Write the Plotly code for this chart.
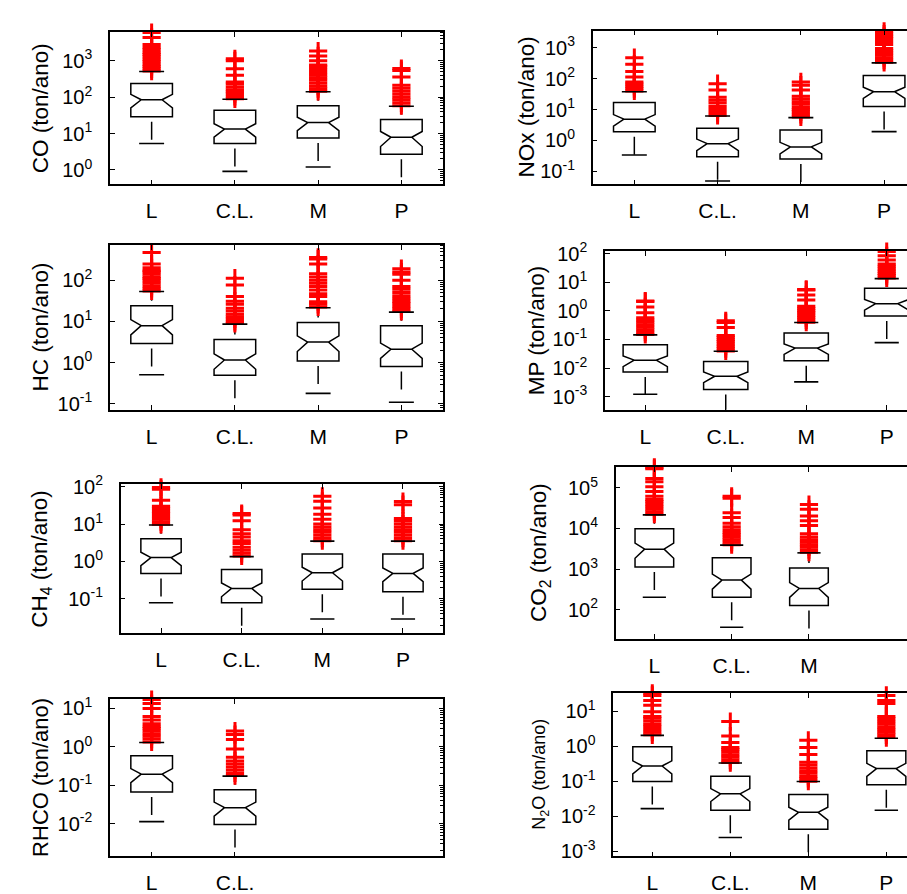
import plotly.graph_objects as go

# ---------------- data (ton/ano) ----------------
categories = ["L", "C.L.", "M", "P"]

# CO
co_groups = ["L", "C.L.", "M", "P"]
co_q1 = [29, 5.3, 7.5, 2.7]
co_median = [85, 13.3, 20, 7.9]
co_q3 = [237, 43.7, 58.5, 24.5]
co_lower = [5.3, 0.91, 1.2, 0.3]
co_upper = [507, 88, 141, 56]
co_notch = [34, 5.3, 8, 3.5]
co_out_L = [520, 600, 700, 800, 950, 1100, 1300, 1500, 1700, 2000, 2300, 2800, 4400, 6000]
co_out_CL = [90, 105, 125, 141, 160, 190, 230, 263, 400, 600, 1000, 1130]
co_out_M = [145, 170, 200, 240, 290, 340, 400, 480, 580, 680, 760, 1000, 1360, 1850]
co_out_P = [58, 70, 85, 100, 120, 145, 175, 214, 357, 540, 610]
co_exponents = [0, 1, 2, 3]

# NOx
nox_groups = ["L", "C.L.", "M", "P"]
nox_q1 = [1.93, 0.30, 0.25, 12.7]
nox_median = [4.9, 0.79, 0.62, 38]
nox_q3 = [17, 2.5, 2.2, 128]
nox_lower = [0.34, 0.049, 0.02, 1.93]
nox_upper = [38, 6.2, 5.5, 325]
nox_notch = [2.0, 0.32, 0.25, 15]
nox_out_L = [40, 48, 57, 68, 79, 113, 170, 295, 480]
nox_out_CL = [6.5, 8, 10, 12.5, 16.3, 20, 25, 43, 69]
nox_out_M = [5.8, 7, 8.5, 10, 12, 15, 18, 22, 27, 43, 62, 79]
nox_out_P = [340, 400, 480, 570, 680, 800, 950, 1270, 1600, 2000, 2350, 2800, 3400]
nox_exponents = [-1, 0, 1, 2, 3]

# HC
hc_groups = ["L", "C.L.", "M", "P"]
hc_q1 = [2.9, 0.495, 1.1, 0.81]
hc_median = [7.9, 1.16, 3.16, 2.12]
hc_q3 = [24, 3.66, 9.4, 7.9]
hc_lower = [0.51, 0.05, 0.18, 0.11]
hc_upper = [53, 8.6, 21.5, 16.8]
hc_notch = [3.2, 0.47, 1.3, 0.85]
hc_out_L = [55, 63, 72, 84, 97, 110, 120, 140, 160, 172, 200, 245, 470, 740]
hc_out_CL = [9, 10, 11.5, 13, 15, 18, 21, 26, 31, 40, 76, 112]
hc_out_M = [22.5, 26, 30, 40, 47, 58, 70, 84, 100, 120, 144, 245, 325, 357]
hc_out_P = [17.5, 20, 23, 27, 31, 36, 42, 50, 60, 70, 100, 140, 158, 190]
hc_exponents = [-1, 0, 1, 2]

# MP
mp_groups = ["L", "C.L.", "M", "P"]
mp_q1 = [0.0073, 0.0018, 0.018, 0.66]
mp_median = [0.019, 0.0052, 0.05, 1.78]
mp_q3 = [0.066, 0.017, 0.169, 6.1]
mp_lower = [0.00123, 0.0002, 0.0033, 0.078]
mp_upper = [0.145, 0.039, 0.39, 13.3]
mp_notch = [0.0078, 0.0021, 0.02, 0.72]
mp_out_L = [0.15, 0.18, 0.22, 0.27, 0.33, 0.4, 0.48, 0.575, 0.85, 1.37, 2.1, 2.2]
mp_out_CL = [0.04, 0.048, 0.058, 0.07, 0.085, 0.1, 0.12, 0.137, 0.26, 0.39, 0.45]
mp_out_M = [0.4, 0.48, 0.58, 0.7, 0.85, 1.0, 1.2, 1.44, 2.4, 3.6, 5.3, 5.6]
mp_out_P = [14, 17, 20, 24, 29, 35, 43, 60, 83, 117, 129]
mp_exponents = [-3, -2, -1, 0, 1, 2]

# CH4
ch4_groups = ["L", "C.L.", "M", "P"]
ch4_q1 = [0.48, 0.079, 0.18, 0.155]
ch4_median = [1.27, 0.19, 0.50, 0.48]
ch4_q3 = [4.06, 0.61, 1.58, 1.58]
ch4_lower = [0.079, 0.008, 0.029, 0.029]
ch4_upper = [9.4, 1.35, 3.5, 3.5]
ch4_notch = [0.5, 0.076, 0.2, 0.19]
ch4_out_L = [9.8, 11.5, 13.5, 16, 19, 22, 26, 30, 43, 85, 95]
ch4_out_CL = [1.4, 1.65, 2.0, 2.4, 3.0, 3.6, 4.5, 5.5, 7, 12.2, 17.5, 19]
ch4_out_M = [3.6, 4.2, 5, 6, 7, 8.3, 10, 13.5, 18.3, 27, 40.5, 55]
ch4_out_P = [3.6, 4.2, 5, 6, 7, 8.3, 10, 12, 14, 33, 40]
ch4_exponents = [-1, 0, 1, 2]

# CO2
co2_groups = ["L", "C.L.", "M"]
co2_q1 = [1120, 202, 127]
co2_median = [3100, 535, 333]
co2_q3 = [9800, 1900, 1070]
co2_lower = [202, 37, 15]
co2_upper = [21700, 3900, 2510]
co2_notch = [1250, 215, 133]
co2_out_L = [22500, 26000, 30000, 35000, 40000, 46000, 51800, 62000, 81500,
             107000, 142000, 170000, 295000, 320000]
co2_out_CL = [4000, 4600, 5300, 6100, 7000, 8000, 9300, 11000, 13400, 18600, 24500, 56000, 62000]
co2_out_M = [2600, 3000, 3500, 4000, 4600, 5300, 6200, 7400, 11800, 15500, 20400, 29600, 39000]
co2_exponents = [2, 3, 4, 5]

# RHCO
rhco_groups = ["L", "C.L."]
rhco_q1 = [0.067, 0.0096]
rhco_median = [0.196, 0.0264]
rhco_q3 = [0.59, 0.077]
rhco_lower = [0.0114, 0.001]
rhco_upper = [1.3, 0.174]
rhco_notch = [0.078, 0.0105]
rhco_out_L = [1.35, 1.6, 1.9, 2.2, 2.6, 3.0, 3.4, 4, 5, 6.2, 10, 13.4, 17]
rhco_out_CL = [0.18, 0.21, 0.25, 0.3, 0.36, 0.43, 0.54, 0.88, 1.57, 2.1, 2.6]
rhco_exponents = [-2, -1, 0, 1]

# N2O
n2o_groups = ["L", "C.L.", "M", "P"]
n2o_q1 = [0.098, 0.015, 0.0043, 0.079]
n2o_median = [0.272, 0.044, 0.013, 0.23]
n2o_q3 = [0.957, 0.14, 0.042, 0.74]
n2o_lower = [0.0166, 0.0025, 0.0005, 0.015]
n2o_upper = [2.02, 0.33, 0.098, 1.67]
n2o_notch = [0.11, 0.0175, 0.0052, 0.092]
n2o_out_L = [2.1, 2.5, 3.0, 3.6, 4.3, 5.2, 6.2, 7, 9.6, 14.7, 20, 27.8, 32]
n2o_out_CL = [0.34, 0.4, 0.48, 0.57, 0.68, 0.8, 0.92, 1.26, 1.94, 5.0]
n2o_out_M = [0.1, 0.12, 0.14, 0.17, 0.2, 0.24, 0.29, 0.35, 0.575, 0.92, 1.47]
n2o_out_P = [1.75, 2.1, 2.5, 2.96, 3.5, 4.2, 5, 6, 7, 16.3, 20, 27.8]
n2o_exponents = [-3, -2, -1, 0, 1]

# ---------------- layout of the panels (pixel frames in a 907x894 page) ----------------
W, H = 907, 894
FONT = "Liberation Sans, Arial, sans-serif"

panels = [
    dict(title="CO (ton/ano)", groups=co_groups, q1=co_q1, med=co_median, q3=co_q3,
         lo=co_lower, hi=co_upper, notch=co_notch,
         outliers=[co_out_L, co_out_CL, co_out_M, co_out_P], exps=co_exponents,
         frame=(110, 443, 20.7, 176.7), xend=3.5, yrange=(-0.397, 3.786), right=False,
         tx=40, bw=0.5, tsize=22.5),
    dict(title="NOx (ton/ano)", groups=nox_groups, q1=nox_q1, med=nox_median, q3=nox_q3,
         lo=nox_lower, hi=nox_upper, notch=nox_notch,
         outliers=[nox_out_L, nox_out_CL, nox_out_M, nox_out_P], exps=nox_exponents,
         frame=(592.7, 907, 19, 176.7), xend=3.275, yrange=(-1.42, 3.56), right=True,
         tx=526, bw=0.5, tsize=22.5),
    dict(title="HC (ton/ano)", groups=hc_groups, q1=hc_q1, med=hc_median, q3=hc_q3,
         lo=hc_lower, hi=hc_upper, notch=hc_notch,
         outliers=[hc_out_L, hc_out_CL, hc_out_M, hc_out_P], exps=hc_exponents,
         frame=(110, 443, 239, 407.7), xend=3.5, yrange=(-1.14, 2.85), right=False,
         tx=40, bw=0.5, tsize=22.5),
    dict(title="MP (ton/ano)", groups=mp_groups, q1=mp_q1, med=mp_median, q3=mp_q3,
         lo=mp_lower, hi=mp_upper, notch=mp_notch,
         outliers=[mp_out_L, mp_out_CL, mp_out_M, mp_out_P], exps=mp_exponents,
         frame=(605, 907, 245, 407.7), xend=3.252, yrange=(-3.45, 2.09), right=True,
         tx=536, bw=0.55, tsize=22.5),
    dict(title="CH<sub>4</sub> (ton/ano)", groups=ch4_groups, q1=ch4_q1, med=ch4_median,
         q3=ch4_q3, lo=ch4_lower, hi=ch4_upper, notch=ch4_notch,
         outliers=[ch4_out_L, ch4_out_CL, ch4_out_M, ch4_out_P], exps=ch4_exponents,
         frame=(120.7, 443.3, 484.3, 636.7), xend=3.5, yrange=(-1.913, 2.06), right=False,
         tx=41, bw=0.5, tsize=22.5),
    dict(title="CO<sub>2</sub> (ton/ano)", groups=co2_groups, q1=co2_q1, med=co2_median,
         q3=co2_q3, lo=co2_lower, hi=co2_upper, notch=co2_notch,
         outliers=[co2_out_L, co2_out_CL, co2_out_M], exps=co2_exponents,
         frame=(615.7, 907, 466.7, 642.7), xend=3.268, yrange=(1.28, 5.51), right=True,
         tx=540, bw=0.5, tsize=22.5),
    dict(title="RHCO (ton/ano)", groups=rhco_groups, q1=rhco_q1, med=rhco_median,
         q3=rhco_q3, lo=rhco_lower, hi=rhco_upper, notch=rhco_notch,
         outliers=[rhco_out_L, rhco_out_CL], exps=rhco_exponents,
         frame=(110, 443.3, 704.7, 865.7), xend=3.5, yrange=(-2.846, 1.237), right=False,
         tx=41, bw=0.5, tsize=22),
    dict(title="N<sub>2</sub>O (ton/ano)", groups=n2o_groups, q1=n2o_q1, med=n2o_median,
         q3=n2o_q3, lo=n2o_lower, hi=n2o_upper, notch=n2o_notch,
         outliers=[n2o_out_L, n2o_out_CL, n2o_out_M, n2o_out_P], exps=n2o_exponents,
         frame=(613.3, 907, 698.3, 865.7), xend=3.265, yrange=(-3.14, 1.51), right=True,
         tx=541, bw=0.5, tsize=18),
]

WHISKER_DASH = "0px,5px,18px,400px"   # MATLAB-like single dash, detached from box and cap
CAP_HALF = 0.15                       # half width of the whisker caps (category units)


def sup_label(e):
    return "10<sup>%d</sup>" % e


fig = go.Figure()
annotations = []
extra_axis = len(panels)
for i, p in enumerate(panels, start=1):
    xa = "x" if i == 1 else "x%d" % i
    ya = "y" if i == 1 else "y%d" % i
    pos = [categories.index(g) for g in p["groups"]]

    # whiskers (dashed), drawn from the box edge to the adjacent value
    for k, xp in enumerate(pos):
        for edge, fence in ((p["q1"][k], p["lo"][k]), (p["q3"][k], p["hi"][k])):
            fig.add_trace(go.Scatter(
                x=[xp, xp], y=[edge, fence], mode="lines",
                line=dict(color="black", width=1.5, dash=WHISKER_DASH),
                xaxis=xa, yaxis=ya, showlegend=False, hoverinfo="skip",
            ))

    # notched boxes
    fig.add_trace(go.Box(
        x=pos, q1=p["q1"], median=p["med"], q3=p["q3"],
        lowerfence=p["q1"], upperfence=p["q3"], notchspan=p["notch"],
        notched=True, notchwidth=0.25, boxpoints=False, width=p["bw"],
        whiskerwidth=0, fillcolor="white",
        line=dict(color="black", width=1.5),
        xaxis=xa, yaxis=ya, showlegend=False, hoverinfo="skip",
    ))

    # outliers (red +)
    for xp, vals in zip(pos, p["outliers"]):
        fig.add_trace(go.Scatter(
            x=[xp] * len(vals), y=vals, mode="markers", cliponaxis=False,
            marker=dict(symbol="cross-thin", size=13, color="red",
                        line=dict(color="red", width=3)),
            xaxis=xa, yaxis=ya, showlegend=False, hoverinfo="skip",
        ))

    # whisker caps at the adjacent values
    for k, xp in enumerate(pos):
        for fence in (p["lo"][k], p["hi"][k]):
            fig.add_trace(go.Scatter(
                x=[xp - CAP_HALF, xp + CAP_HALF], y=[fence, fence], mode="lines",
                line=dict(color="black", width=1.6),
                xaxis=xa, yaxis=ya, showlegend=False, hoverinfo="skip",
            ))

    x0, x1, y0, y1 = p["frame"]
    xdom = [x0 / W, min(x1 / W, 1.0)]
    ydom = [1 - y1 / H, 1 - y0 / H]
    xkey = "xaxis" if i == 1 else "xaxis%d" % i
    ykey = "yaxis" if i == 1 else "yaxis%d" % i
    fig.layout[xkey] = dict(
        domain=xdom, anchor=ya, type="linear", range=[-0.5, p["xend"]],
        tickmode="array", tickvals=pos, ticktext=p["groups"],
        ticks="inside", ticklen=5, tickcolor="black", tickwidth=1.2,
        showline=True, linecolor="black", linewidth=1.5, mirror="ticks",
        showgrid=False, zeroline=False, ticklabelstandoff=7,
        tickfont=dict(family=FONT, size=21, color="black"),
    )
    fig.layout[ykey] = dict(
        domain=ydom, anchor=xa, type="log", range=list(p["yrange"]),
        tickmode="array", tickvals=[10.0 ** e for e in p["exps"]],
        ticktext=[sup_label(e) for e in p["exps"]],
        ticks="inside", ticklen=5, tickcolor="black", tickwidth=1.2,
        showline=True, linecolor="black", linewidth=1.5,
        mirror=False if p["right"] else "ticks",
        showgrid=False, zeroline=False, ticklabelstandoff=12,
        tickfont=dict(family=FONT, size=20, color="black"),
    )
    if not p["right"]:
        # minor log ticks along the right edge of the frame (as in the original)
        extra_axis += 1
        oya = "y%d" % extra_axis
        fig.layout["yaxis%d" % extra_axis] = dict(
            overlaying=ya, anchor=xa, side="right", type="log",
            range=list(p["yrange"]), showline=False, showgrid=False,
            zeroline=False, showticklabels=False, ticks="",
            minor=dict(ticks="inside", ticklen=3, dtick="D1",
                       tickcolor="black", tickwidth=1, showgrid=False),
        )
        fig.add_trace(go.Scatter(
            x=pos, y=p["med"], mode="markers",
            marker=dict(size=1, opacity=0), xaxis=xa, yaxis=oya,
            showlegend=False, hoverinfo="skip",
        ))
    annotations.append(dict(
        text=p["title"], textangle=-90, x=p["tx"] / W, y=1 - (y0 + y1) / 2 / H,
        xref="paper", yref="paper", xanchor="center", yanchor="middle",
        showarrow=False, font=dict(family=FONT, size=p["tsize"], color="black"),
    ))

fig.update_layout(
    autosize=True,
    margin=dict(l=0, r=0, t=0, b=0, pad=0),
    paper_bgcolor="white", plot_bgcolor="white",
    annotations=annotations, showlegend=False,
)

fig.write_html(
    "out.html",
    config={"displayModeBar": False, "responsive": True},
    default_width="100vw",
    default_height="100vh",
    post_script=(
        "document.documentElement.style.overflow='hidden';"
        "document.body.style.margin='0';document.body.style.overflow='hidden';"
        "var d=document.getElementById('{plot_id}');"
        "d.style.position='fixed';d.style.left='0px';d.style.top='0px';"
        "d.style.width='100vw';d.style.height='100vh';"
        "Plotly.Plots.resize(d);"
    ),
)
